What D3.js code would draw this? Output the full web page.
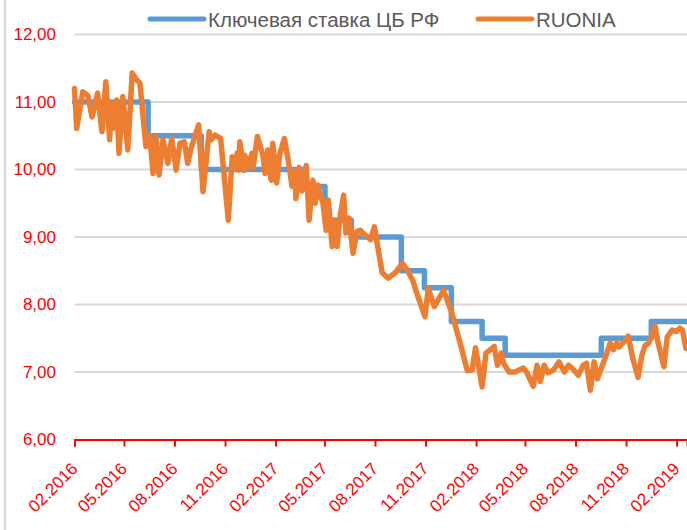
<!DOCTYPE html>
<html><head><meta charset="utf-8">
<script src="https://cdn.jsdelivr.net/npm/d3@7"></script>
<style>body{margin:0;background:#fff} svg{display:block}</style>
</head><body><svg id="c" width="687" height="530"></svg>
<script>
const seriesNames = ["Ключевая ставка ЦБ РФ", "RUONIA"];
const seriesColors = ["#5b9bd5", "#ed7d31"];

const keyRateDates = ["2016-02-01","2016-06-14","2016-09-19","2017-03-27","2017-05-02","2017-06-19","2017-09-18","2017-10-30","2017-12-18","2018-02-12","2018-03-26","2018-09-17","2018-12-17","2019-02-19"];
const keyRateValues = [11.00,10.50,10.00,9.75,9.25,9.00,8.50,8.25,7.75,7.50,7.25,7.50,7.75,7.75];

const ruoniaDates = ["2016-02-01","2016-02-05","2016-02-16","2016-02-25","2016-03-04","2016-03-14","2016-03-22","2016-03-29","2016-04-05","2016-04-08","2016-04-11","2016-04-18","2016-04-22","2016-04-29","2016-05-08","2016-05-16","2016-05-24","2016-05-30","2016-06-10","2016-06-17","2016-06-23","2016-06-28","2016-07-04","2016-07-11","2016-07-20","2016-07-27","2016-08-04","2016-08-11","2016-08-19","2016-08-25","2016-08-31","2016-09-14","2016-09-22","2016-10-03","2016-10-07","2016-10-14","2016-10-24","2016-11-07","2016-11-14","2016-11-18","2016-11-23","2016-11-25","2016-11-28","2016-12-05","2016-12-07","2016-12-13","2016-12-20","2016-12-22","2016-12-30","2017-01-09","2017-01-13","2017-01-18","2017-01-24","2017-01-27","2017-02-03","2017-02-09","2017-02-17","2017-02-24","2017-03-03","2017-03-09","2017-03-10","2017-03-16","2017-03-21","2017-03-29","2017-04-03","2017-04-10","2017-04-14","2017-04-19","2017-04-25","2017-04-28","2017-05-04","2017-05-08","2017-05-15","2017-05-19","2017-05-24","2017-05-29","2017-06-05","2017-06-09","2017-06-15","2017-06-22","2017-06-29","2017-07-05","2017-07-14","2017-07-24","2017-07-31","2017-08-07","2017-08-14","2017-08-25","2017-09-07","2017-09-20","2017-09-29","2017-10-09","2017-10-16","2017-10-31","2017-11-06","2017-11-17","2017-12-04","2017-12-19","2018-01-03","2018-01-16","2018-01-25","2018-01-31","2018-02-12","2018-02-19","2018-02-27","2018-03-06","2018-03-12","2018-03-19","2018-03-23","2018-04-02","2018-04-13","2018-04-28","2018-05-04","2018-05-16","2018-05-23","2018-05-29","2018-06-05","2018-06-12","2018-06-22","2018-07-02","2018-07-12","2018-07-19","2018-07-27","2018-08-06","2018-08-15","2018-08-21","2018-08-28","2018-09-04","2018-09-10","2018-09-19","2018-09-26","2018-10-03","2018-10-09","2018-10-15","2018-10-19","2018-10-31","2018-11-05","2018-11-14","2018-11-23","2018-11-30","2018-12-06","2018-12-12","2018-12-24","2018-12-28","2019-01-09","2019-01-15","2019-01-24","2019-02-01","2019-02-07","2019-02-12","2019-02-18"];
const ruoniaValues = [11.20,10.61,11.15,11.10,10.78,11.13,10.56,11.30,10.44,10.98,10.61,11.03,10.24,11.08,10.29,11.43,11.33,11.28,10.34,10.51,9.94,10.49,9.92,10.44,10.09,10.46,9.99,10.39,10.41,10.09,10.31,10.66,9.67,10.56,10.44,10.51,10.46,9.25,10.19,10.02,10.24,9.99,10.41,9.99,10.21,10.04,10.24,10.02,10.49,10.21,9.94,10.29,9.84,10.39,9.80,10.24,10.46,10.14,9.75,9.99,9.57,10.03,9.68,10.06,9.25,9.84,9.50,9.77,9.58,9.52,9.10,9.55,8.86,9.25,8.86,9.28,9.62,9.06,9.28,8.76,9.08,9.10,9.03,8.96,9.15,8.81,8.47,8.39,8.47,8.61,8.51,8.35,8.17,7.82,8.24,7.97,8.21,7.87,7.43,7.02,7.03,7.36,6.78,7.28,7.33,7.38,7.10,7.28,7.13,7.00,7.00,7.06,7.00,6.79,7.10,6.86,7.10,6.99,7.03,7.15,7.00,7.10,7.05,6.95,7.10,7.13,6.73,7.15,6.90,7.10,7.25,7.43,7.33,7.43,7.37,7.47,7.53,7.18,6.92,7.25,7.40,7.42,7.68,7.48,7.08,7.52,7.62,7.60,7.65,7.62,7.35];

const yTicks = [6, 7, 8, 9, 10, 11, 12];
const xTickDates = ["2016-02-01","2016-05-01","2016-08-01","2016-11-01","2017-02-01","2017-05-01","2017-08-01","2017-11-01","2018-02-01","2018-05-01","2018-08-01","2018-11-01","2019-02-01"];
const xDomain = ["2016-02-01", "2019-02-20"];

const parse = d3.timeParse("%Y-%m-%d");
const svg = d3.select("#c");
const FONT = "'Liberation Sans', Arial, sans-serif";

const x = d3.scaleTime().domain(xDomain.map(parse)).range([74.5, 687]);
const y = d3.scaleLinear().domain([6, 12]).range([439.5, 34.5]);

// left border
svg.append("line").attr("x1", 5).attr("x2", 5).attr("y1", 0).attr("y2", 530)
  .attr("stroke", "#d9d9d9").attr("stroke-width", 2.5);

// gridlines
svg.append("g").selectAll("line").data(yTicks.filter(v => v > 6)).join("line")
  .attr("x1", 74.5).attr("x2", 687).attr("y1", d => y(d)).attr("y2", d => y(d))
  .attr("stroke", "#d9d9d9").attr("stroke-width", 2);

// y labels
svg.append("g").selectAll("text").data(yTicks).join("text")
  .attr("x", 56).attr("y", d => y(d)).attr("dy", "0.35em")
  .attr("text-anchor", "end").attr("fill", "#ff0000")
  .style("font-family", FONT).style("font-size", "17px")
  .text(d => d3.format(".2f")(d).replace(".", ","));

// x axis
const xa = svg.append("g").attr("transform", `translate(0,${y(6)})`)
  .call(d3.axisBottom(x).tickValues(xTickDates.map(parse)).tickSize(7).tickFormat(""));
xa.select(".domain").attr("stroke", "#ff0000").attr("stroke-width", 2);
xa.selectAll(".tick line").attr("stroke", "#ff0000").attr("stroke-width", 2);

svg.append("g").selectAll("text").data(xTickDates.map(parse)).join("text")
  .attr("transform", d => `translate(${x(d)},${y(6) + 26}) rotate(-45)`)
  .attr("dy", "0.35em").attr("text-anchor", "end").attr("fill", "#ff0000")
  .style("font-family", FONT).style("font-size", "17px")
  .text(d3.timeFormat("%m.%Y"));

// series
const line = d3.line().x(d => x(d.date)).y(d => y(d.v));
const keyData = keyRateDates.map((d, i) => ({date: parse(d), v: keyRateValues[i]}));
const ruData = ruoniaDates.map((d, i) => ({date: parse(d), v: ruoniaValues[i]}));

svg.append("path").datum(keyData)
  .attr("d", line.curve(d3.curveStepAfter))
  .attr("fill", "none").attr("stroke", seriesColors[0]).attr("stroke-width", 5.5)
  .attr("stroke-linejoin", "round").attr("stroke-linecap", "round");

svg.append("path").datum(ruData)
  .attr("d", d3.line().x(d => x(d.date)).y(d => y(d.v)))
  .attr("fill", "none").attr("stroke", seriesColors[1]).attr("stroke-width", 5.5)
  .attr("stroke-linejoin", "round").attr("stroke-linecap", "round");

// legend
const legendX = [150, 478];
const lg = svg.append("g");
seriesNames.forEach((n, i) => {
  lg.append("line").attr("x1", legendX[i]).attr("x2", legendX[i] + 54)
    .attr("y1", 19).attr("y2", 19).attr("stroke", seriesColors[i])
    .attr("stroke-width", 5).attr("stroke-linecap", "round");
  lg.append("text").attr("x", legendX[i] + 58).attr("y", 27)
    .attr("fill", "#595959").style("font-family", FONT).style("font-size", "20.5px")
    .text(n);
});
</script></body></html>
